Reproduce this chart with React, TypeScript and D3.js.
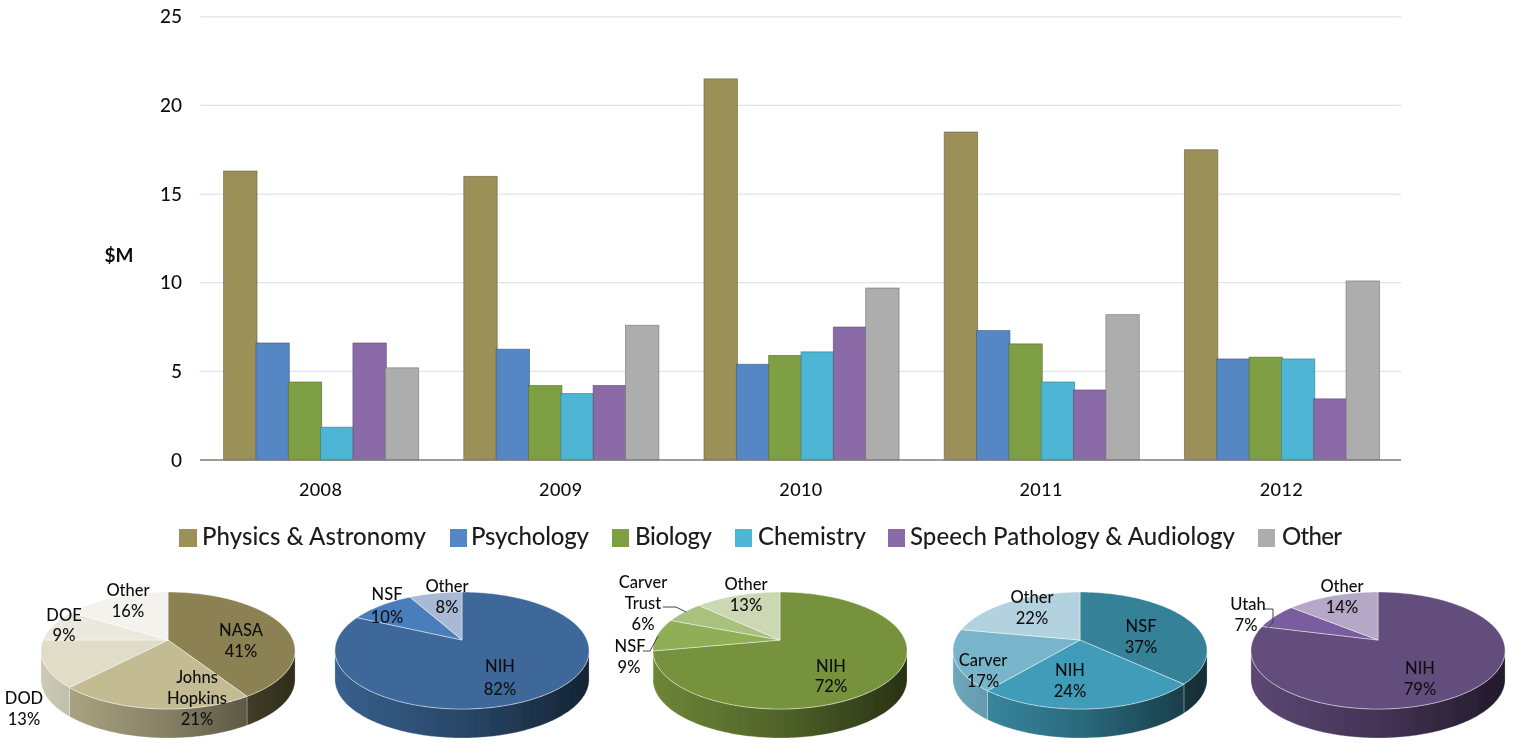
import React from "react";
import * as d3 from "d3";

const years = ["2008", "2009", "2010", "2011", "2012"];
const seriesNames = ["Physics & Astronomy", "Psychology", "Biology", "Chemistry", "Speech Pathology & Audiology", "Other"];
const physics = [16.3, 16, 21.5, 18.5, 17.5];
const psychology = [6.6, 6.25, 5.4, 7.3, 5.7];
const biology = [4.4, 4.2, 5.9, 6.55, 5.8];
const chemistry = [1.85, 3.75, 6.1, 4.4, 5.7];
const speech = [6.6, 4.2, 7.5, 3.95, 3.45];
const other = [5.2, 7.6, 9.7, 8.2, 10.1];
const allSeries = [physics, psychology, biology, chemistry, speech, other];
const yTicks = [0, 5, 10, 15, 20, 25];

const barColors = ["#9b9158", "#5687c5", "#7f9f44", "#50b5d5", "#8b6aa8", "#adadad"];

const pie1Names = ["NASA", "Johns Hopkins", "DOD", "DOE", "Other"];
const pie1Values = [41, 21, 13, 9, 16];
const pie1Colors = ["#8b8152", "#c3bc93", "#dfdcc7", "#ebe9de", "#f4f2ed"];
const pie2Names = ["NIH", "NSF", "Other"];
const pie2Values = [82, 10, 8];
const pie2Colors = ["#3d6899", "#4a7dbb", "#a8b9d6"];
const pie3Names = ["NIH", "NSF", "Carver Trust", "Other"];
const pie3Values = [72, 9, 6, 13];
const pie3Colors = ["#76923c", "#8fae55", "#a9c07f", "#ccd7b4"];
const pie4Names = ["NSF", "NIH", "Carver", "Other"];
const pie4Values = [37, 24, 17, 22];
const pie4Colors = ["#368198", "#3f9cb8", "#78b5cb", "#b3d2df"];
const pie5Names = ["NIH", "Utah", "Other"];
const pie5Values = [79, 7, 14];
const pie5Colors = ["#644d7d", "#7a5d9e", "#b5a8c6"];

const pies = [
  { names: pie1Names, values: pie1Values, colors: pie1Colors, cx: 168 },
  { names: pie2Names, values: pie2Values, colors: pie2Colors, cx: 462 },
  { names: pie3Names, values: pie3Values, colors: pie3Colors, cx: 780 },
  { names: pie4Names, values: pie4Values, colors: pie4Colors, cx: 1080 },
  { names: pie5Names, values: pie5Values, colors: pie5Colors, cx: 1378 },
];

// text labels: [text, centre x, baseline y]
const pieLabels: [string, number, number][] = [
  ["Other", 128, 596], ["16%", 128, 617], ["DOE", 64, 621], ["9%", 64, 641],
  ["NASA", 241, 636], ["41%", 241, 657], ["Johns", 197, 683], ["Hopkins", 197, 704], ["21%", 197, 725],
  ["DOD", 24, 704], ["13%", 24, 725],
  ["NSF", 387, 600], ["10%", 387, 623], ["Other", 447, 592], ["8%", 447, 613], ["NIH", 500, 672], ["82%", 500, 695],
  ["Carver", 643, 588], ["Trust", 643, 609], ["6%", 643, 630], ["NSF", 630, 652], ["9%", 629, 673],
  ["Other", 746, 590], ["13%", 746, 611], ["NIH", 831, 672], ["72%", 831, 692],
  ["Other", 1032, 603], ["22%", 1032, 624], ["NSF", 1141, 632], ["37%", 1141, 653],
  ["NIH", 1070, 676], ["24%", 1070, 697], ["Carver", 983, 666], ["17%", 983, 687],
  ["Utah", 1248, 610], ["7%", 1246, 631], ["Other", 1342, 592], ["14%", 1342, 613], ["NIH", 1420, 674], ["79%", 1420, 695],
];

const leaderLines = [
  "M663,607L676,607L686,612",
  "M643,651L650,651L658,636",
  "M1264,609L1273,609L1273,622L1268,628",
];

const legendLayout = [
  { sq: 179, sw: 18, tx: 202, tw: 224 },
  { sq: 450, sw: 17, tx: 471, tw: 118 },
  { sq: 612, sw: 17, tx: 635, tw: 77 },
  { sq: 735, sw: 17, tx: 758, tw: 108 },
  { sq: 888, sw: 17, tx: 910, tw: 325 },
  { sq: 1258, sw: 17, tx: 1282, tw: 60 },
];

const FONT = "Lato, 'Open Sans', sans-serif";
const x0 = d3.scaleBand<string>().domain(years).range([200.5, 1401.5]);
const y = d3.scaleLinear().domain([0, 25]).range([460, 16.8]);
const BAR_W = 32.4;
const BAR_SPAN = 194;

// Pie projection: tilted circle in perspective
const APEX = 640;
const B = 56.6;
const K = 0.18;
const A = 125;
const DEPTH = 29;
const project = (cx: number, ang: number): [number, number] => {
  const px = Math.sin(ang);
  const py = -Math.cos(ang);
  const w = 1 - K * py;
  return [cx + (A * px) / w, APEX + (B * py) / w];
};
const sampleArc = (cx: number, a0: number, a1: number) => {
  const n = Math.max(2, Math.ceil((a1 - a0) / 0.02));
  return d3.range(n + 1).map((i) => project(cx, a0 + ((a1 - a0) * i) / n));
};
const line = d3.line();
const SIDE_START = Math.acos(-K);
const SIDE_END = 2 * Math.PI - SIDE_START;

function Pie3D({ names, values, colors, cx, id }: any) {
  const arcs = d3.pie<number>().sort(null)(values);
  return (
    <g>
      <defs>
        {colors.map((c: string, i: number) => (
          <linearGradient key={i} id={`g${id}-${i}`} gradientUnits="userSpaceOnUse" x1={cx - 127} x2={cx + 127} y1={0} y2={0}>
            <stop offset="0%" stopColor={d3.interpolateRgb(c, "#000")(0.08)} />
            <stop offset="50%" stopColor={d3.interpolateRgb(c, "#000")(0.32)} />
            <stop offset="100%" stopColor={d3.interpolateRgb(c, "#000")(0.66)} />
          </linearGradient>
        ))}
      </defs>
      {arcs.map((a, i) => {
        const s = Math.max(a.startAngle, SIDE_START);
        const e = Math.min(a.endAngle, SIDE_END);
        if (e <= s) return null;
        const top = sampleArc(cx, s, e);
        const bottom = top.map(([px, py]) => [px, py + DEPTH] as [number, number]).reverse();
        return (
          <path key={i} d={line([...top, ...bottom]) + "Z"} fill={`url(#g${id}-${i})`} stroke="#fff" strokeOpacity={0.45} strokeWidth={0.6} />
        );
      })}
      {arcs.map((a, i) => {
        const pts = sampleArc(cx, a.startAngle, a.endAngle);
        return (
          <path key={names[i]} d={line([[cx, APEX], ...pts]) + "Z"} fill={colors[i]} stroke="#fff" strokeOpacity={0.55} strokeWidth={0.8} strokeLinejoin="round" />
        );
      })}
    </g>
  );
}

export default function App() {
  return (
    <svg width={1513} height={743} style={{ position: "absolute", left: 0, top: 0, background: "#fff" }} fontFamily={FONT}>
      <defs>
        <filter id="soft" x="0" y="0" width="100%" height="100%">
          <feGaussianBlur stdDeviation="0.45" />
        </filter>
      </defs>
      <g filter="url(#soft)">
        {yTicks.filter((t) => t > 0).map((t) => (
          <line key={t} x1={200} x2={1401} y1={y(t)} y2={y(t)} stroke="#dbe4f2" strokeWidth={1.3} />
        ))}
        {years.map((yr, gi) => {
          const cx = (x0(yr) as number) + x0.bandwidth() / 2;
          const start = cx - BAR_SPAN / 2;
          const bx = d3.scaleBand<number>().domain(d3.range(6)).range([start, start + BAR_SPAN]);
          return (
            <g key={yr}>
              {allSeries.map((s, si) => (
                <rect key={si} x={bx(si)} y={y(s[gi])} width={BAR_W + 1} height={y(0) - y(s[gi])} fill={barColors[si]}
                  stroke={d3.interpolateRgb(barColors[si], "#000")(0.35)} strokeOpacity={0.65} strokeWidth={0.9} />
              ))}
              <text x={cx} y={496} textAnchor="middle" fontSize={18} fontWeight={500} fill="#111" letterSpacing={0.4}>{yr}</text>
            </g>
          );
        })}
        <line x1={200} x2={1401} y1={460} y2={460} stroke="#7d7d7d" strokeWidth={1.7} />
        {yTicks.map((t) => (
          <text key={t} x={182} y={y(t) + 6.5} textAnchor="end" fontSize={19} fontWeight={500} fill="#111">{t}</text>
        ))}
        <text x={119} y={262} textAnchor="middle" fontSize={19} fontWeight={700} fill="#111">$M</text>

        {seriesNames.map((n, i) => {
          const l = legendLayout[i];
          return (
            <g key={n}>
              <rect x={l.sq} y={529} width={l.sw} height={18} fill={barColors[i]} />
              <text x={l.tx} y={545} fontSize={24} fontWeight={500} fill="#1e1e1e" textLength={l.tw} lengthAdjust="spacing">{n}</text>
            </g>
          );
        })}

        {pies.map((p, i) => (
          <Pie3D key={i} id={i} {...p} />
        ))}
        {leaderLines.map((d, i) => (
          <path key={i} d={d} fill="none" stroke="#444" strokeWidth={1} />
        ))}
        {pieLabels.map(([t, lx, ly], i) => (
          <text key={i} x={lx} y={ly} textAnchor="middle" fontSize={16.5} fontWeight={500} fill="#111">{t}</text>
        ))}
      </g>
    </svg>
  );
}
